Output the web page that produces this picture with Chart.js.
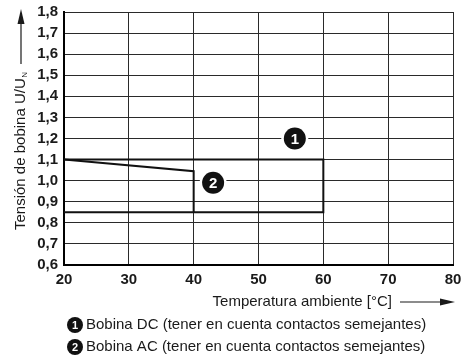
<!DOCTYPE html>
<html>
<head>
<meta charset="utf-8">
<script src="https://cdn.jsdelivr.net/npm/chart.js@4/dist/chart.umd.min.js"></script>
<style>
html,body{margin:0;padding:0;background:#fff;}
canvas{display:block;}
</style>
</head>
<body>
<canvas id="c" width="461" height="361"></canvas>
<script>
// ---- data ----
const dcTemps   = [20, 60, 60, 20];
const dcVolts   = [1.1, 1.1, 0.85, 0.85];
const acTemps   = [20, 40, 40];
const acVolts   = [1.1, 1.045, 0.85];
const markerTemps  = [55.6, 43];
const markerVolts  = [1.2, 0.99];
const markerLabels = ['1', '2'];
const xTicks = [20, 30, 40, 50, 60, 70, 80];
const yTicks = [0.6, 0.7, 0.8, 0.9, 1.0, 1.1, 1.2, 1.3, 1.4, 1.5, 1.6, 1.7, 1.8];
const xTitle = 'Temperatura ambiente [°C]';
const yTitle = 'Tensión de bobina U/U';
const yTitleSub = 'N';
const legendLabels = [
  'Bobina DC (tener en cuenta contactos semejantes)',
  'Bobina AC (tener en cuenta contactos semejantes)'
];

const FONT = '"Liberation Sans", Arial, Helvetica, sans-serif';
const INK = '#1a1a1a';

const toPts = (xs, ys) => xs.map((x, i) => ({x: x, y: ys[i]}));

const decor = {
  id: 'decor',
  afterDatasetsDraw(chart) {
    const ctx = chart.ctx;
    const xs = chart.scales.x, ys = chart.scales.y;
    ctx.save();
    markerLabels.forEach((lab, i) => {
      const px = xs.getPixelForValue(markerTemps[i]);
      const py = ys.getPixelForValue(markerVolts[i]);
      ctx.beginPath(); ctx.fillStyle = '#fff';
      ctx.arc(px, py, 13.5, 0, Math.PI * 2); ctx.fill();
      ctx.beginPath(); ctx.fillStyle = '#111';
      ctx.arc(px, py, 11, 0, Math.PI * 2); ctx.fill();
      ctx.fillStyle = '#fff';
      ctx.font = 'bold 15px ' + FONT;
      ctx.textAlign = 'center'; ctx.textBaseline = 'middle';
      ctx.fillText(lab, px, py + 1);
    });
    ctx.restore();
  },
  afterDraw(chart) {
    const ctx = chart.ctx;
    const ca = chart.chartArea;
    ctx.save();
    ctx.fillStyle = INK; ctx.strokeStyle = INK;
    // x axis title + arrow
    const ty = ca.bottom + 37;
    ctx.font = '15px ' + FONT;
    ctx.textAlign = 'right'; ctx.textBaseline = 'middle';
    ctx.fillText(xTitle, ca.right - 61, ty);
    ctx.lineWidth = 1.2;
    ctx.beginPath(); ctx.moveTo(ca.right - 53, ty); ctx.lineTo(ca.right - 10, ty); ctx.stroke();
    ctx.beginPath(); ctx.moveTo(ca.right + 2, ty); ctx.lineTo(ca.right - 13, ty - 3.5); ctx.lineTo(ca.right - 13, ty + 3.5); ctx.closePath(); ctx.fill();

    // y axis title + arrow
    const tx = 21, tyb = 230;
    ctx.save();
    ctx.translate(tx, tyb);
    ctx.rotate(-Math.PI / 2);
    ctx.textAlign = 'left'; ctx.textBaseline = 'middle';
    ctx.font = '15px ' + FONT;
    ctx.fillText(yTitle, 0, 0);
    const w = ctx.measureText(yTitle).width;
    ctx.font = '8px ' + FONT;
    ctx.fillText(yTitleSub, w + 0.5, 4);
    ctx.restore();
    ctx.lineWidth = 1.2;
    ctx.beginPath(); ctx.moveTo(tx, 64); ctx.lineTo(tx, 22); ctx.stroke();
    ctx.beginPath(); ctx.moveTo(tx, 9); ctx.lineTo(tx - 3.5, 24); ctx.lineTo(tx + 3.5, 24); ctx.closePath(); ctx.fill();

    // legend
    legendLabels.forEach((lab, i) => {
      const ly = 325 + i * 22;
      ctx.beginPath(); ctx.fillStyle = '#111';
      ctx.arc(75, ly, 8, 0, Math.PI * 2); ctx.fill();
      ctx.fillStyle = '#fff';
      ctx.font = 'bold 11px ' + FONT;
      ctx.textAlign = 'center'; ctx.textBaseline = 'middle';
      ctx.fillText(markerLabels[i], 75, ly + 0.5);
      ctx.fillStyle = INK;
      ctx.font = '15px ' + FONT;
      ctx.textAlign = 'left';
      ctx.fillText(lab, 86, ly);
    });
    ctx.restore();
  }
};

new Chart(document.getElementById('c'), {
  type: 'line',
  data: {
    datasets: [
      { label: 'DC', data: toPts(dcTemps, dcVolts), borderColor: '#111', borderWidth: 2, pointRadius: 0, tension: 0, fill: false },
      { label: 'AC', data: toPts(acTemps, acVolts), borderColor: '#111', borderWidth: 2, pointRadius: 0, tension: 0, fill: false }
    ]
  },
  options: {
    responsive: false,
    animation: false,
    parsing: false,
    layout: { padding: { top: 12, right: 8, left: 0, bottom: 0 } },
    plugins: { legend: { display: false }, tooltip: { enabled: false } },
    scales: {
      x: {
        type: 'linear', min: 20, max: 80,
        afterBuildTicks: s => { s.ticks = xTicks.map(v => ({value: v})); },
        afterFit: s => { s.height = 96; s.paddingLeft = 0; s.paddingRight = 0; },
        grid: { color: '#2a2a2a', lineWidth: 1, drawTicks: false },
        border: { color: '#000', width: 2 },
        ticks: { color: INK, font: { family: FONT, size: 15, weight: 'bold' }, padding: 6, maxRotation: 0, autoSkip: false,
                 callback: v => String(v) }
      },
      y: {
        type: 'linear', min: 0.6, max: 1.8,
        afterBuildTicks: s => { s.ticks = yTicks.map(v => ({value: v})); },
        afterFit: s => { s.width = 64; s.paddingTop = 0; s.paddingBottom = 0; },
        grid: { color: '#2a2a2a', lineWidth: 1, drawTicks: false },
        border: { color: '#000', width: 2 },
        ticks: { color: INK, font: { family: FONT, size: 15, weight: 'bold' }, padding: 6, autoSkip: false,
                 callback: v => v.toFixed(1).replace('.', ',') }
      }
    }
  },
  plugins: [decor]
});
</script>
</body>
</html>
